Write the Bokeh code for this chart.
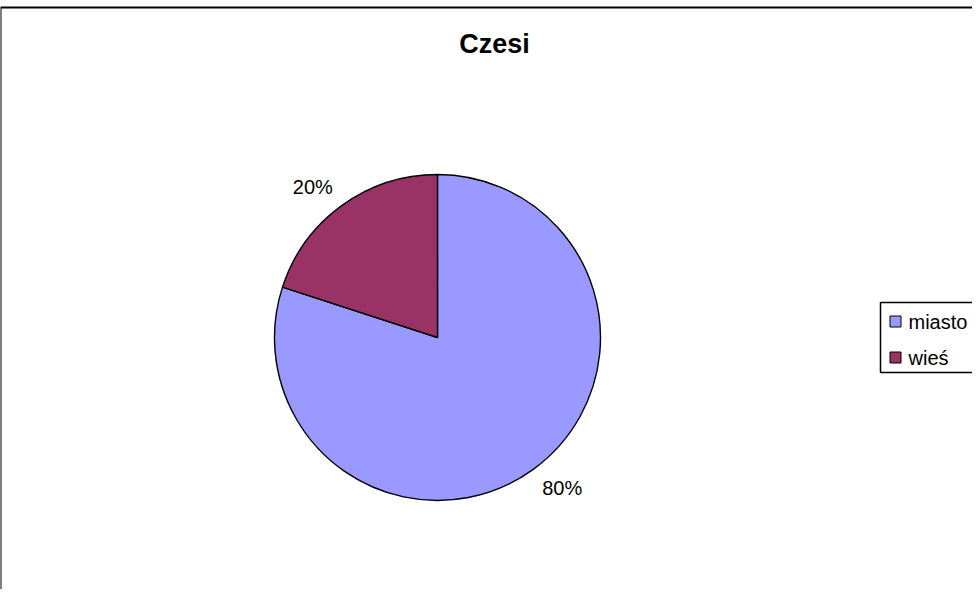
import math
from bokeh.plotting import figure
from bokeh.models import Range1d, ColumnDataSource
from bokeh.core.properties import value
from bokeh.embed import file_html
from bokeh.resources import INLINE

# ---- data ----
title = "Czesi"
categories = ["miasto", "wieś"]
shares = [80, 20]
colors = ["#9999FF", "#993366"]
labels = ["80%", "20%"]

W, H = 972, 589
p = figure(width=W, height=H, output_backend="svg", toolbar_location=None,
           x_range=Range1d(0, W), y_range=Range1d(0, H), min_border=0,
           tools="")
p.axis.visible = False
p.grid.visible = False
p.outline_line_color = None
p.background_fill_color = "white"
p.border_fill_color = "white"

# chart border (extends beyond window on right and bottom)
p.quad(left=0, right=W + 20, top=H - 7, bottom=-20, fill_color=None,
       line_color="black", line_width=2)

# pie
cx, cy, r = 437, 252, 163
total = float(sum(shares))
starts, ends, mids = [], [], []
cum = 0.0
for s in shares:
    end = math.pi / 2 - cum / total * 2 * math.pi
    cum += s
    start = math.pi / 2 - cum / total * 2 * math.pi
    starts.append(start)
    ends.append(end)
    mids.append((start + end) / 2)

src = ColumnDataSource(dict(start=starts, end=ends, color=colors, cat=categories))
p.wedge(x=cx, y=cy, radius=r, start_angle="start", end_angle="end",
        fill_color="color", line_color="black", line_width=1.4, source=src)

lr = r * 1.2
rot = math.radians(3.6)
lab_src = ColumnDataSource(dict(
    x=[cx + lr * math.cos(a + rot) for a in mids],
    y=[cy + lr * math.sin(a + rot) for a in mids],
    t=labels))
p.text(x="x", y="y", text="t", source=lab_src, text_align="center",
       text_baseline="middle", text_font=value("Liberation Sans"),
       text_font_size="20px", text_color="black")

# title
p.text(x=[494], y=[546], text=[title], text_align="center", text_baseline="middle",
       text_font=value("Liberation Sans"), text_font_size="27px",
       text_font_style="bold", text_color="black")

# legend
p.quad(left=880, right=W + 20, top=287, bottom=217, fill_color="white",
       line_color="black", line_width=1.5)
leg_y = [268 - 36 * i for i in range(len(categories))]
p.scatter(x=[895] * len(categories), y=leg_y, marker="square", size=11,
          fill_color=colors, line_color="black", line_width=1)
p.text(x=[908] * len(categories), y=leg_y, text=categories, text_align="left",
       text_baseline="middle", text_font=value("Liberation Sans"),
       text_font_size="20px", text_color="black")

open("out.html", "w").write(file_html(p, INLINE))
